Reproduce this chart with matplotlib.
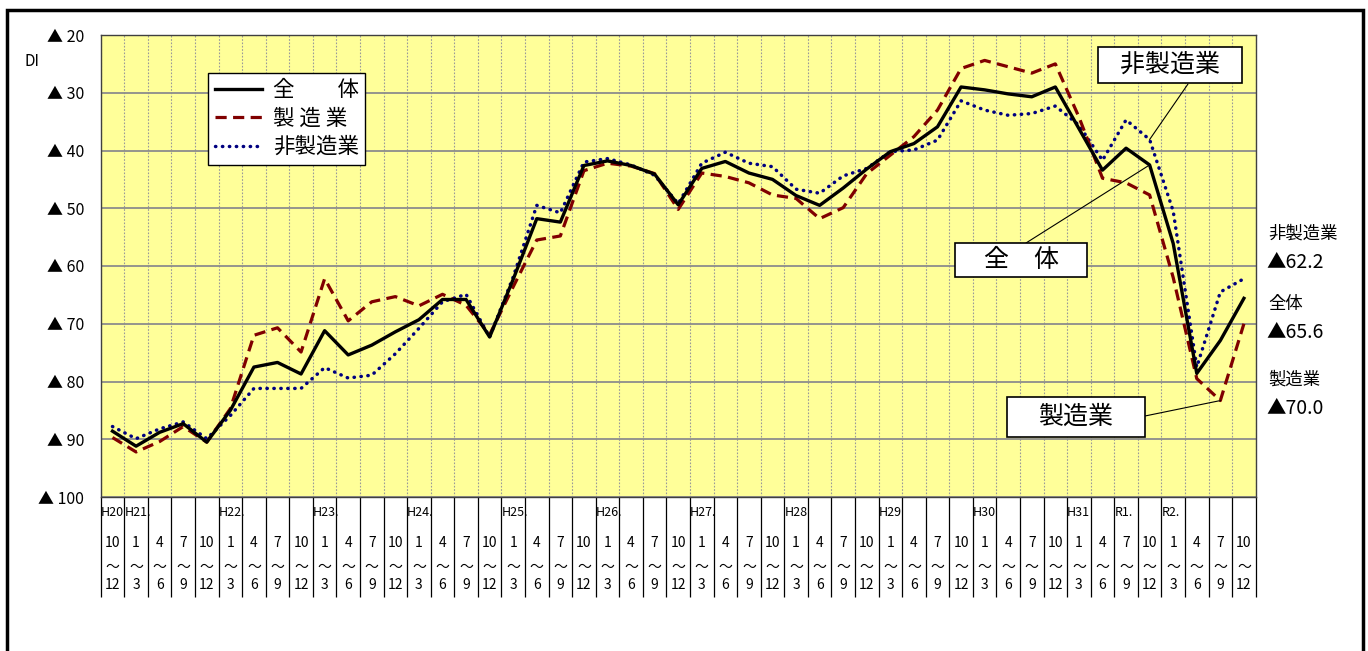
import numpy as np
import matplotlib
matplotlib.use('Agg')
import matplotlib.pyplot as plt
from matplotlib.patches import Rectangle
from matplotlib.transforms import blended_transform_factory

plt.rcParams['font.family'] = ['Noto Sans CJK JP', 'DejaVu Sans']

W, H = 1368, 651

# DI values (negative = ▲), quarterly H20 10-12 .. R2 10-12
total = [-88.6, -91.2, -88.8, -87.3, -90.5, -85.0, -77.5, -76.7, -78.7, -71.2,
         -75.4, -73.7, -71.4, -69.3, -65.8, -65.8, -72.3, -62.3, -51.8, -52.4,
         -42.6, -41.8, -42.6, -44.1, -49.4, -43.1, -41.9, -43.9, -45.0, -47.8,
         -49.5, -46.5, -43.2, -40.2, -38.8, -35.9, -29.0, -29.5, -30.2, -30.7,
         -29.0, -36.2, -43.4, -39.6, -42.5, -56.1, -78.6, -72.9, -65.6]
mfg = [-89.7, -92.2, -90.4, -87.8, -90.5, -84.7, -72.0, -70.7, -74.9, -62.2,
       -69.5, -66.2, -65.3, -66.9, -64.9, -66.8, -71.9, -63.6, -55.5, -54.8,
       -43.5, -42.2, -42.7, -44.0, -50.2, -43.9, -44.5, -45.6, -47.7, -48.3,
       -51.8, -49.9, -44.0, -40.8, -37.6, -33.0, -25.8, -24.4, -25.5, -26.6,
       -25.0, -34.2, -44.8, -45.6, -47.7, -62.0, -79.5, -83.3, -70.0]
nonmfg = [-87.8, -89.9, -88.2, -87.0, -89.9, -85.9, -81.2, -81.2, -81.2, -77.6,
          -79.4, -78.9, -75.2, -70.8, -66.2, -64.9, -72.3, -61.9, -49.5, -50.8,
          -42.0, -41.4, -42.5, -44.3, -49.2, -42.2, -40.3, -42.2, -42.8, -46.7,
          -47.4, -44.4, -43.1, -40.2, -39.9, -38.2, -31.4, -33.0, -33.9, -33.6,
          -32.3, -35.6, -41.7, -34.7, -38.1, -50.5, -77.5, -64.5, -62.2]

quarter_start = ['10'] + ['1', '4', '7', '10'] * 12
quarter_end = ['12'] + ['3', '6', '9', '12'] * 12
era_labels = ['H20', 'H21.', 'H22.', 'H23.', 'H24.', 'H25.', 'H26.', 'H27.',
              'H28', 'H29', 'H30', 'H31', 'R1.', 'R2.']
era_pos = [0, 1, 5, 9, 13, 17, 21, 25, 29, 33, 37, 41, 43, 45]
y_ticks = [-100, -90, -80, -70, -60, -50, -40, -30, -20]


def fx(px):
    return px / W


def fy(py):
    return 1 - py / H


fig = plt.figure(figsize=(W / 100, H / 100), dpi=100)
ax = fig.add_axes([fx(100.7), fy(497), 1155 / W, 462 / H])
ax.set_facecolor('#FFFF99')

x = np.arange(len(total))
ax.plot(x, total, color='black', lw=2.4, label='全　　体', zorder=5)
ax.plot(x, mfg, color='#800000', lw=2.3, linestyle=(0, (3.5, 2)), label='製 造 業', zorder=4)
ax.plot(x, nonmfg, color='#000080', lw=2.5, linestyle=(0, (0.1, 1.9)),
        dash_capstyle='round', label='非製造業', zorder=3)

ax.set_xlim(-0.5, len(total) - 0.5)
ax.set_ylim(-100, -20)
ax.set_yticks(y_ticks)
ax.set_yticklabels(['▲ %d' % abs(v) for v in y_ticks], fontsize=11.5)
ax.tick_params(axis='y', length=0, pad=12)

# category boundaries
bounds = np.arange(len(total) + 1) - 0.5
ax.set_xticks([])
ax.set_xticks(bounds, minor=True)
ax.tick_params(axis='x', which='minor', length=72, width=0.9, color='black',
               labelbottom=False)
ax.grid(axis='y', color='#8c8c8c', lw=1.3)
ax.grid(axis='x', which='minor', color='#999999', lw=0.8, linestyle=(0, (1.5, 1.5)))
ax.set_axisbelow(True)
for s in ax.spines.values():
    s.set_color('#404040')
    s.set_linewidth(1)

trans = blended_transform_factory(ax.transData, ax.transAxes)
for lab, p in zip(era_labels, era_pos):
    ax.text(p - 0.5, -0.034, lab, transform=trans, ha='left', va='center',
            fontsize=9, clip_on=False)
for i in range(len(total)):
    ax.text(i, -0.099, quarter_start[i], transform=trans, ha='center', va='center',
            fontsize=10, clip_on=False)
    ax.text(i, -0.151, '～', transform=trans, ha='center', va='center',
            fontsize=10, clip_on=False)
    ax.text(i, -0.19, quarter_end[i], transform=trans, ha='center', va='center',
            fontsize=10, clip_on=False)

fig.text(fx(25), fy(62), 'DI', fontsize=11, va='center', ha='left')

leg = ax.legend(loc='upper left', bbox_to_anchor=(0.093, 0.918), borderaxespad=0,
                fontsize=15.5, handlelength=2.2, handletextpad=0.5, fancybox=False,
                framealpha=1, edgecolor='black', labelspacing=0.3, borderpad=0.3)
leg.get_frame().set_linewidth(1)

# callout boxes with leader lines
boxes = [
    ('非製造業', (1098, 47, 1242, 83), (1188, 84), nonmfg, 18),
    ('全　体', (955, 243, 1087, 277), (1026, 243), total, 18),
    ('製造業', (1007, 397, 1145, 437), (1145, 416), mfg, 18),
]
lead_idx = [44, 44, 47]
for (txt, (x0, y0, x1, y1), start, ser, fs), k in zip(boxes, lead_idx):
    fig.add_artist(Rectangle((fx(x0), fy(y1)), fx(x1 - x0), (y1 - y0) / H,
                             transform=fig.transFigure, facecolor='white',
                             edgecolor='black', lw=1.2, zorder=6))
    fig.text(fx((x0 + x1) / 2), fy((y0 + y1) / 2), txt, fontsize=fs,
             ha='center', va='center', zorder=7)
    ax.annotate('', xy=(k, ser[k]), xycoords='data',
                xytext=(start[0], H - start[1]), textcoords='figure pixels',
                arrowprops=dict(arrowstyle='-', color='black', lw=0.8,
                                shrinkA=0, shrinkB=0), zorder=6)

# end-value labels at right
side = [('非製造業', nonmfg[-1], 234), ('全体', total[-1], 304), ('製造業', mfg[-1], 380)]
for name, v, py in side:
    fig.text(fx(1268), fy(py), name, fontsize=12.5, ha='left', va='center')
    fig.text(fx(1266), fy(py + 28), '▲%.1f' % abs(v), fontsize=14, ha='left', va='center')

# outer frame
fig.add_artist(Rectangle((fx(7), fy(700)), fx(1356), (700 - 10) / H,
                         transform=fig.transFigure, fill=False, edgecolor='black',
                         lw=2.5, clip_on=False))

fig.savefig('out.png', dpi=100)
